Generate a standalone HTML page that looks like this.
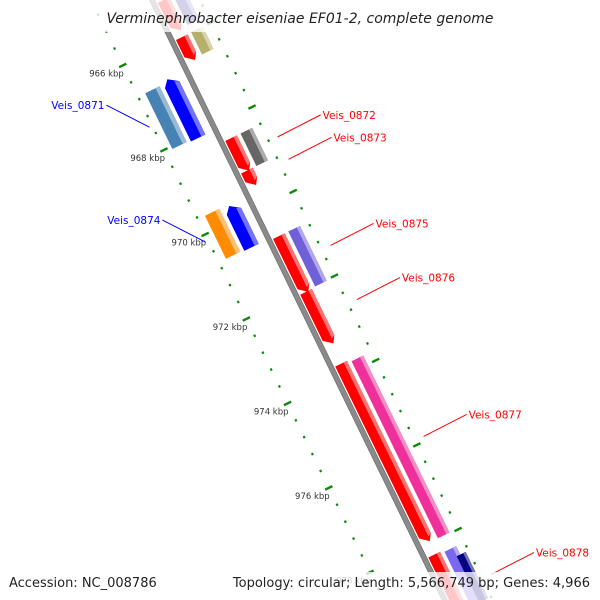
<!DOCTYPE html>
<html><head><meta charset="utf-8"><style>
html,body{margin:0;padding:0;background:#fff;overflow:hidden;width:600px;height:600px;}
svg{display:block;font-family:"DejaVu Sans","Liberation Sans",sans-serif;overflow:hidden;}
</style></head><body>
<svg id="map" width="600" height="600" viewBox="0 0 600 600">
<defs><clipPath id="frame"><rect width="600" height="600"/></clipPath></defs>
<rect width="600" height="600" fill="#fff"/>
<g clip-path="url(#frame)">
<g id="track" transform="translate(152,0) rotate(-26)"></g>
<g id="labels"></g>
</g>
<rect x="0" y="0" width="600" height="32" fill="#fff" opacity="0.78"/>
<text x="300" y="23" text-anchor="middle" font-size="14" font-style="italic" fill="#222">Verminephrobacter eiseniae EF01-2, complete genome</text>
<rect x="0" y="572" width="600" height="28" fill="#fff" opacity="0.78"/>
<text x="9" y="587" font-size="13" fill="#222">Accession: NC_008786</text>
<text x="590" y="587" text-anchor="end" font-size="13" fill="#222">Topology: circular; Length: 5,566,749 bp; Genes: 4,966</text>
</svg>
<script>
// gene data (kbp)
const geneStart = [965.13, 966.01, 968.40, 969.17, 970.72, 972.04, 973.74, 978.26, 964.8, 966.0, 968.40, 970.72, 973.79, 978.3, 978.5, 966.68, 969.68, 966.74, 969.64];
const geneEnd   = [965.87, 966.57, 969.19, 969.53, 972.06, 973.28, 977.96, 979.6, 965.83, 966.53, 969.17, 972.02, 977.98, 979.6, 979.6, 968.09, 970.68, 968.06, 970.66];
const geneTrack = [1,1,1,1,1,1,1,1, 2,2,2,2,2, 2,2.6, -1,-1, -2,-2];
const geneStrand= [1,1,1,1,1,1,1,1, 0,0,0,0,0, 0,0, -1,-1, 0,0];
const geneColor = ["#ff0000","#ff0000","#ff0000","#ff0000","#ff0000","#ff0000","#ff0000","#ff0000",
 "#3c3296","#b5b06a","#666666","#7060d8","#f0309a","#7b68ee","#000080","#0000ff","#0000ff","#4682b4","#ff8c00"];
const tickKbp = [966, 968, 970, 972, 974, 976, 978];
const tickLabels = ["966 kbp","968 kbp","970 kbp","972 kbp","974 kbp","976 kbp","978 kbp"];
const labelNames = ["Veis_0871","Veis_0872","Veis_0873","Veis_0874","Veis_0875","Veis_0876","Veis_0877","Veis_0878"];
const labelKbp   = [967.43, 968.81, 969.34, 970.15, 971.38, 972.66, 975.9, 979.17];
const labelSide  = [-1, 1, 1, -1, 1, 1, 1, 1];

const NS="http://www.w3.org/2000/svg";
const U=k=>46+(k-966)*47;           // along-track axis
const trackV=t=>({1:[4,17],2:[21,34],2.6:[30,40],"-1":[-27,-11],"-2":[-47,-31]})[t];
const toXY=(v,u)=>[152+v*0.899+u*0.438, -v*0.438+u*0.899];
const g=document.getElementById('track'), L=document.getElementById('labels');
function mk(tag,attrs,parent){const e=document.createElementNS(NS,tag);for(const k in attrs)e.setAttribute(k,attrs[k]);parent.appendChild(e);return e;}
function lighten(c){const n=parseInt(c.slice(1),16);let r=n>>16,gg=(n>>8)&255,b=n&255;r=Math.round(r+(255-r)*0.45);gg=Math.round(gg+(255-gg)*0.45);b=Math.round(b+(255-b)*0.45);return `rgb(${r},${gg},${b})`;}

// backbone
const bb=mk('rect',{x:-2.5,y:-40,width:5,height:720,fill:'#8a8a8a',stroke:'#666','stroke-width':0.6},g);



// dotted tick rulers
for(let k=964.8;k<=979.8;k+=0.4){
  const major=Math.abs(k-Math.round(k/2)*2)<0.05;
  [-55,43].forEach(v=>{
    const d=mk('rect',major?{x:v-4,y:U(k)-1.2,width:8,height:2.4,fill:'#0a8a0a'}:{x:v-1,y:U(k)-1.2,width:2.2,height:2.4,fill:'#0a8a0a'},g);
    
    
  });
}

// genes
for(let i=0;i<geneStart.length;i++){
  const [v0,v1]=trackV(geneTrack[i]);const u0=U(geneStart[i]),u1=U(geneEnd[i]);const s=geneStrand[i];const a=7;
  let pts;
  if(s===1) pts=[[v0,u0],[v1,u0],[v1,u1-a],[(v0+v1)/2+2,u1],[v0,u1-a]];
  else if(s===-1) pts=[[v0,u0+a],[(v0+v1)/2-2,u0],[v1,u0+a],[v1,u1],[v0,u1]];
  else pts=[[v0,u0],[v1,u0],[v1,u1],[v0,u1]];
  const grp=mk('g',{},g);
  
  
  mk('polygon',{points:pts.map(p=>p.join(',')).join(' '),fill:geneColor[i]},grp);
  const hw=(v1-v0)*0.28;
  const hs=s===1?[[v1-hw,u0],[v1,u0],[v1,u1-a],[v1-hw,u1-a*0.7]]:s===-1?[[v1-hw,u0+a*0.7],[v1,u0+a],[v1,u1],[v1-hw,u1]]:[[v1-hw,u0],[v1,u0],[v1,u1],[v1-hw,u1]];
  mk('polygon',{points:hs.map(p=>p.join(',')).join(' '),fill:lighten(geneColor[i])},grp);
}

// tick labels
for(let i=0;i<tickKbp.length;i++){
  const [x,y]=toXY(-73,U(tickKbp[i]));
  const t=mk('text',{x:x,y:y+3,'text-anchor':'middle','font-size':8.5,fill:'#333'},L);
  t.textContent=tickLabels[i];
  
  
}

// gene labels
for(let i=0;i<labelNames.length;i++){
  const side=labelSide[i];const u=U(labelKbp[i]);
  const [x0,y0]=side>0?toXY(53,u):toXY(-58,u);
  const x1=x0+side*43,y1=y0-22;
  const col=side>0?'#ff0000':'#0000ff';
  mk('line',{x1:x0,y1:y0,x2:x1,y2:y1,stroke:col,'stroke-width':1},L);
  const t=mk('text',{x:x1+side*2,y:y1+4,'text-anchor':side>0?'start':'end','font-size':10.5,fill:col},L);
  t.textContent=labelNames[i];
  
  
}
</script>
</body></html>
